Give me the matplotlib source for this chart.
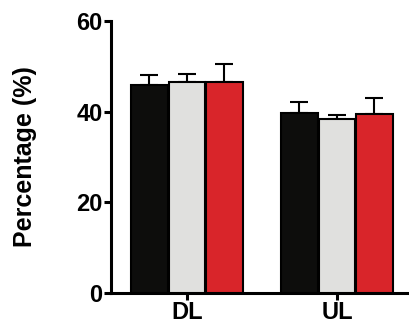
import matplotlib
matplotlib.use("Agg")
import matplotlib.pyplot as plt
import numpy as np

plt.rcParams["font.family"] = ["Liberation Sans", "DejaVu Sans"]
plt.rcParams["font.weight"] = "bold"

groups = ["DL", "UL"]
series_colors = ["#0d0d0c", "#e0e0de", "#d9252a"]
means = [
    [45.9, 39.7],   # black
    [46.5, 38.4],   # grey
    [46.5, 39.5],   # red
]
errors = [
    [2.2, 2.4],
    [1.8, 0.9],
    [4.0, 3.5],
]

fig = plt.figure(figsize=(4.09, 3.28), dpi=100)
ax = fig.add_axes([0.271, 0.107, 0.729, 0.829])

x = np.arange(len(groups))
width = 0.245
offsets = [-0.25, 0.0, 0.25]

for s in range(3):
    xs = x + offsets[s]
    ax.bar(xs, means[s], width=width, color=series_colors[s],
           edgecolor="black", linewidth=1.5, zorder=3)
    ax.errorbar(xs, means[s], yerr=[np.zeros(len(groups)), errors[s]],
                fmt="none", ecolor="black", elinewidth=1.5, capsize=6.5,
                capthick=1.5, zorder=2)

ax.set_xlim(-0.507, 1.48)
ax.set_ylim(0, 60)
ax.set_yticks([0, 20, 40, 60])
ax.set_xticks(x)
ax.set_xticklabels(groups)
ax.set_ylabel("Percentage (%)", fontsize=18, fontweight="bold", labelpad=28)

for side in ["top", "right"]:
    ax.spines[side].set_visible(False)
for side in ["left", "bottom"]:
    ax.spines[side].set_linewidth(2.2)
ax.tick_params(axis="both", width=2.2, length=5, labelsize=17, pad=1)

fig.savefig("out.png", dpi=100)
